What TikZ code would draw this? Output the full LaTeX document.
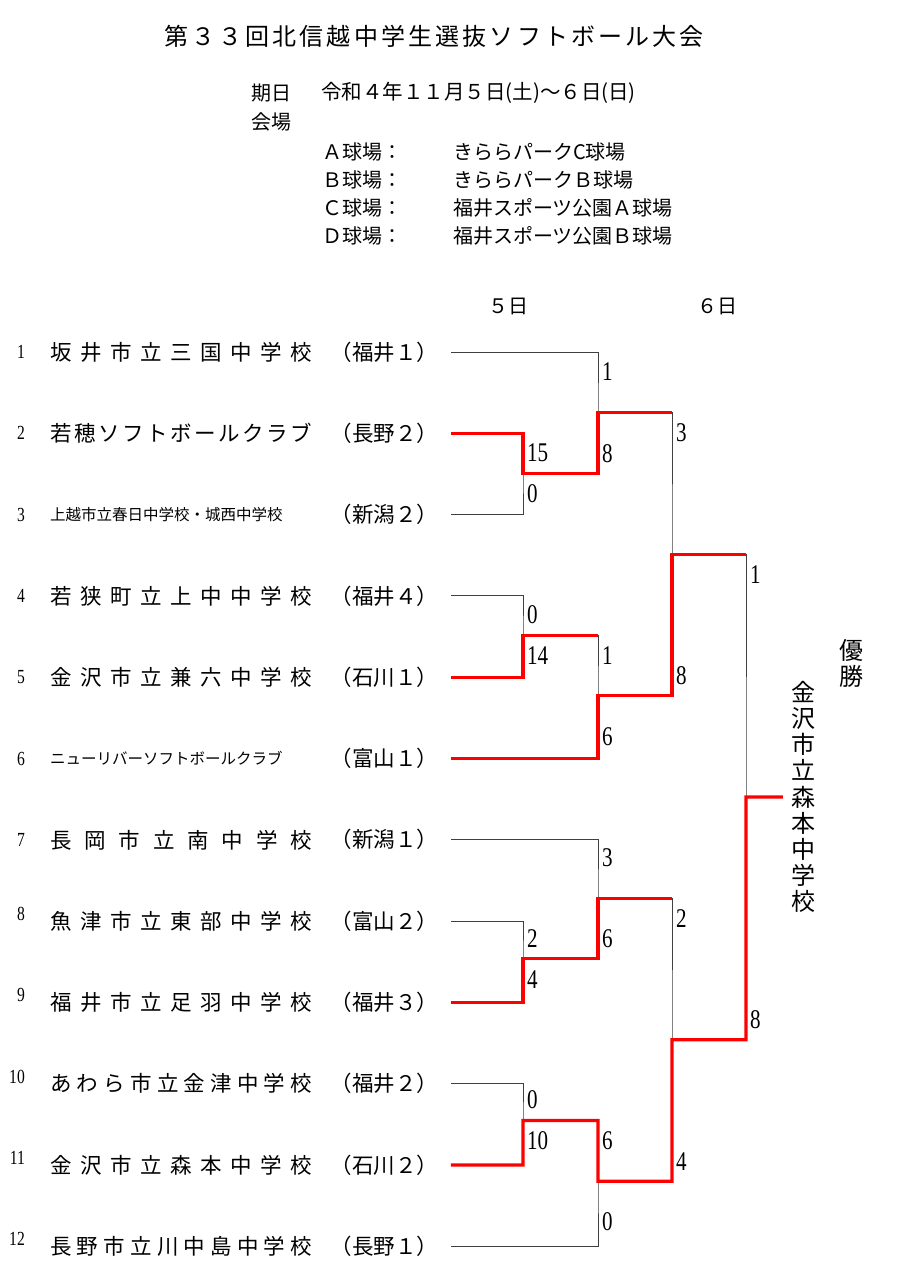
\documentclass[tikz,border=0pt]{standalone}
\usepackage{fontspec}
\setmainfont{Noto Sans CJK JP}
\newfontfamily\scorefont[FakeStretch=0.78]{Liberation Serif}
\usetikzlibrary{positioning}

% spread the characters of a name over a fixed width
\newcommand\spreadto[2]{\makebox[#1][s]{\spreadchar#2\relax}}
\def\spreadchar#1#2{#1\ifx\relax#2\else\hfil\expandafter\spreadchar\expandafter#2\fi}

\begin{document}
\begin{tikzpicture}[x=1pt, y=-1pt,
        lose/.style={draw=black!75, line width=1pt},
        win/.style={draw=red, line width=3.2pt},
        school/.style={anchor=west, inner sep=0pt, minimum height=80.9pt, text width=262pt, align=left, font=\fontsize{21.5}{21.5}\selectfont},
        pref/.style={inner sep=0pt, text width=120pt, align=left, font=\fontsize{21.5}{21.5}\selectfont},
        num/.style={inner sep=0pt, font=\scorefont\fontsize{20}{20}\selectfont},
        score/.style={anchor=west, inner sep=0pt, font=\scorefont\fontsize{27}{27}\selectfont},
        head/.style={anchor=west, inner sep=0pt, font=\fontsize{20}{20}\selectfont}]
    \fill[white] (0,0) rectangle (900,1264);
    \useasboundingbox (0,0) rectangle (900,1264);

    \node[inner sep=0pt, font=\fontsize{24}{24}\selectfont] (ttl) at (434,36) {\spreadto{540pt}{第３３回北信越中学生選抜ソフトボール大会}};

    \node[head] (kijitsu) at (251,93) {期日};
    \node[head, font=\fontsize{20.5}{20.5}\selectfont] (date) at (321,93) {令和４年１１月５日(土)～６日(日)};
    \node[head] (kaijo) at (251,122) {会場};
    \node[head] (fa) at (322,152) {Ａ球場：};
    \node[head] (va) at (453,152) {きららパークC球場};
    \node[head] (fb) at (322,180) {Ｂ球場：};
    \node[head] (vb) at (453,180) {きららパークＢ球場};
    \node[head] (fc) at (322,208) {Ｃ球場：};
    \node[head] (vc) at (453,208) {福井スポーツ公園Ａ球場};
    \node[head] (fd) at (322,236) {Ｄ球場：};
    \node[head] (vd) at (453,236) {福井スポーツ公園Ｂ球場};
    \node[head] (day5) at (488,306) {５日};
    \node[head] (day6) at (697,306) {６日};

    % schools
    \node[school] (s1) at (50,352) {\spreadto{262pt}{坂井市立三国中学校}};
    \node[school, below=0pt of s1] (s2) {\spreadto{262pt}{若穂ソフトボールクラブ}};
    \node[school, below=0pt of s2] (s3) {\fontsize{15.5}{16}\selectfont 上越市立春日中学校・城西中学校};
    \node[school, below=0pt of s3] (s4) {\spreadto{262pt}{若狭町立上中中学校}};
    \node[school, below=0pt of s4] (s5) {\spreadto{262pt}{金沢市立兼六中学校}};
    \node[school, below=0pt of s5] (s6) {\fontsize{15.5}{16}\selectfont ニューリバーソフトボールクラブ};
    \node[school, below=0pt of s6] (s7) {\spreadto{262pt}{長岡市立南中学校}};
    \node[school, below=0pt of s7] (s8) {\spreadto{262pt}{魚津市立東部中学校}};
    \node[school, below=0pt of s8] (s9) {\spreadto{262pt}{福井市立足羽中学校}};
    \node[school, below=0pt of s9] (s10) {\spreadto{262pt}{あわら市立金津中学校}};
    \node[school, below=0pt of s10] (s11) {\spreadto{262pt}{金沢市立森本中学校}};
    \node[school, below=0pt of s11] (s12) {\spreadto{262pt}{長野市立川中島中学校}};

    \node[num, left=25pt of s1] (n1) {1};
    \node[num, left=25pt of s2] (n2) {2};
    \node[num, left=25pt of s3] (n3) {3};
    \node[num, left=25pt of s4] (n4) {4};
    \node[num, left=25pt of s5] (n5) {5};
    \node[num, left=25pt of s6] (n6) {6};
    \node[num, left=25pt of s7] (n7) {7};
    \node[num, left=25pt of s8, yshift=7pt] (n8) {8};
    \node[num, left=25pt of s9, yshift=7pt] (n9) {9};
    \node[num, left=25pt of s10, yshift=7pt] (n10) {10};
    \node[num, left=25pt of s11, yshift=7pt] (n11) {11};
    \node[num, left=25pt of s12, yshift=7pt] (n12) {12};

    \node[pref, right=18pt of s1] (p1) {（福井１）};
    \node[pref, right=18pt of s2] (p2) {（長野２）};
    \node[pref, right=18pt of s3] (p3) {（新潟２）};
    \node[pref, right=18pt of s4] (p4) {（福井４）};
    \node[pref, right=18pt of s5] (p5) {（石川１）};
    \node[pref, right=18pt of s6] (p6) {（富山１）};
    \node[pref, right=18pt of s7] (p7) {（新潟１）};
    \node[pref, right=18pt of s8] (p8) {（富山２）};
    \node[pref, right=18pt of s9] (p9) {（福井３）};
    \node[pref, right=18pt of s10] (p10) {（福井２）};
    \node[pref, right=18pt of s11] (p11) {（石川２）};
    \node[pref, right=18pt of s12] (p12) {（長野１）};

    % match points
    \coordinate (a) at (523,473.35);
    \coordinate (b) at (523,635.15);
    \coordinate (c) at (523,958.75);
    \coordinate (d) at (523,1120.55);
    \coordinate (e) at (598,412.7);
    \coordinate (f) at (598,695.8);
    \coordinate (g) at (598,898.1);
    \coordinate (h) at (598,1181.2);
    \coordinate (i) at (672,554.25);
    \coordinate (j) at (672,1039.65);
    \coordinate (k) at (746,796.95);

    \node[inner sep=8pt, align=center, font=\fontsize{24}{26.2}\selectfont] (champ) at (803,797) {金\\沢\\市\\立\\森\\本\\中\\学\\校};
    \node[align=center, font=\fontsize{24}{26}\selectfont] (yusho) at (851,663) {優\\勝};

    \draw[lose] (p2.east) -| (a) |- (p3.east);
    \draw[lose] (p4.east) -| (b) |- (p5.east);
    \draw[lose] (p8.east) -| (c) |- (p9.east);
    \draw[lose] (p10.east) -| (d) |- (p11.east);
    \draw[lose] (p1.east) -| (e) |- (a);
    \draw[lose] (b) -| (f) |- (p6.east);
    \draw[lose] (p7.east) -| (g) |- (c);
    \draw[lose] (d) -| (h) |- (p12.east);
    \draw[lose] (e) -| (i) |- (f);
    \draw[lose] (g) -| (j) |- (h);
    \draw[lose] (i) -| (k) |- (j);

    \draw[win] (p2.east) -| (a) -| (e) -- (e -| i);
    \draw[win] (p5.east) -| (b) -- (b -| f);
    \draw[win] (p6.east) -| (f) -| (i) -- (i -| k);
    \draw[win] (p9.east) -| (c) -| (g) -- (g -| j);
    \draw[win] (p11.east) -| (d) -| (h) -| (j) -| (k) -- (champ.west);

    % scores
    \node[score] (a1) at (527,452.9) {15};
    \node[score] (a2) at (527,493.8) {0};
    \node[score] (b1) at (527,614.7) {0};
    \node[score] (b2) at (527,655.6) {14};
    \node[score] (c1) at (527,938.3) {2};
    \node[score] (c2) at (527,979.2) {4};
    \node[score] (d1) at (527,1100.1) {0};
    \node[score] (d2) at (527,1141) {10};
    \node[score] (e1) at (602,372) {1};
    \node[score] (e2) at (602,453.35) {8};
    \node[score] (f1) at (602,655.15) {1};
    \node[score] (f2) at (602,736.5) {6};
    \node[score] (g1) at (602,857.4) {3};
    \node[score] (g2) at (602,938.75) {6};
    \node[score] (h1) at (602,1140.55) {6};
    \node[score] (h2) at (602,1221.9) {0};
    \node[score] (i1) at (676,432.7) {3};
    \node[score] (i2) at (676,675.8) {8};
    \node[score] (j1) at (676,918.1) {2};
    \node[score] (j2) at (676,1161.2) {4};
    \node[score] (k1) at (750,574.25) {1};
    \node[score] (k2) at (750,1019.65) {8};
\end{tikzpicture}
\end{document}
